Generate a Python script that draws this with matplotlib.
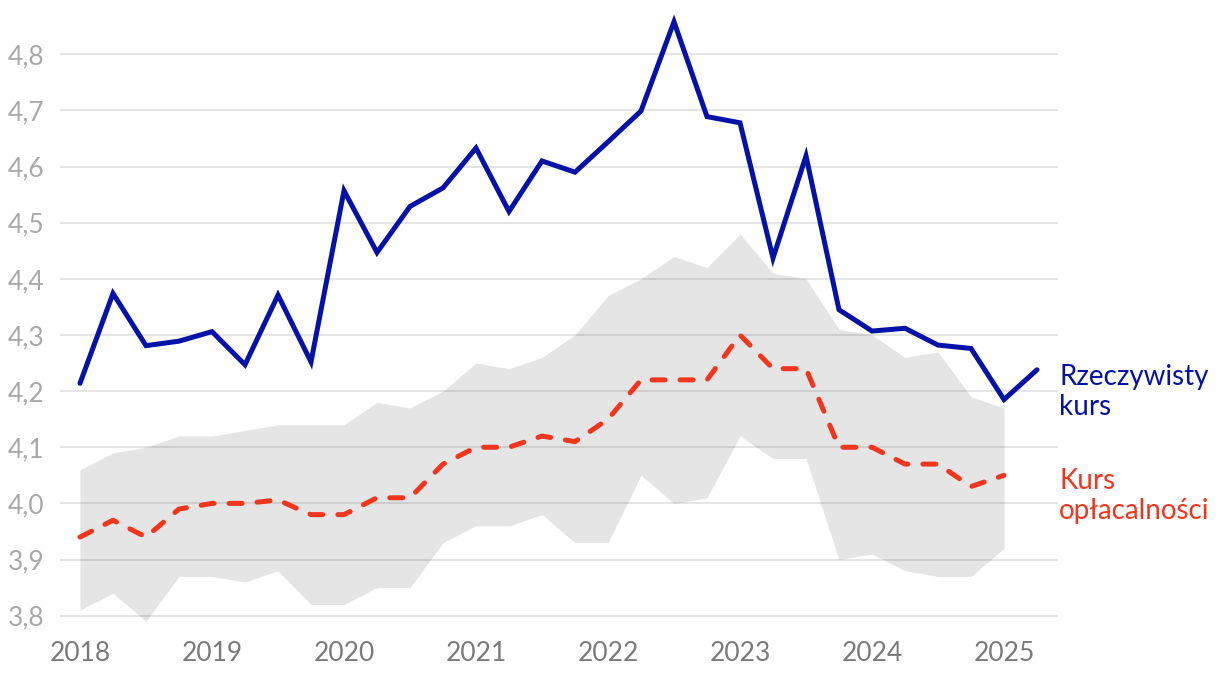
import matplotlib
matplotlib.use("Agg")
import matplotlib.pyplot as plt
import numpy as np

plt.rcParams['font.family'] = ['Lato', 'DejaVu Sans']

# Quarterly time axis
t_actual = [2018 + 0.25 * i for i in range(30)]   # 2018Q1 .. 2025Q2
t_fair = [2018 + 0.25 * i for i in range(29)]     # 2018Q1 .. 2025Q1

actual = [4.214, 4.374, 4.281, 4.289, 4.306, 4.247, 4.371, 4.252,
          4.557, 4.447, 4.529, 4.562, 4.633, 4.520, 4.610, 4.590,
          4.644, 4.699, 4.858, 4.689, 4.678, 4.437, 4.619, 4.345,
          4.307, 4.312, 4.282, 4.276, 4.185, 4.238]

fair = [3.94, 3.97, 3.94, 3.99, 4.00, 4.00, 4.006, 3.98,
        3.98, 4.01, 4.01, 4.07, 4.10, 4.10, 4.12, 4.11,
        4.15, 4.22, 4.22, 4.22, 4.30, 4.24, 4.24, 4.10,
        4.10, 4.07, 4.07, 4.03, 4.05]

band_upper = [4.06, 4.09, 4.10, 4.12, 4.12, 4.13, 4.14, 4.14,
              4.14, 4.18, 4.17, 4.20, 4.25, 4.24, 4.26, 4.30,
              4.37, 4.40, 4.44, 4.42, 4.48, 4.41, 4.40, 4.31,
              4.30, 4.26, 4.27, 4.19, 4.17]

band_lower = [3.81, 3.84, 3.79, 3.87, 3.87, 3.86, 3.88, 3.82,
              3.82, 3.85, 3.85, 3.93, 3.96, 3.96, 3.98, 3.93,
              3.93, 4.05, 4.00, 4.01, 4.12, 4.08, 4.08, 3.90,
              3.91, 3.88, 3.87, 3.87, 3.92]

x_ticks = [2018, 2019, 2020, 2021, 2022, 2023, 2024, 2025]
x_labels = ['2018', '2019', '2020', '2021', '2022', '2023', '2024', '2025']
y_ticks = [3.8, 3.9, 4.0, 4.1, 4.2, 4.3, 4.4, 4.5, 4.6, 4.7, 4.8]
y_labels = ['3,8', '3,9', '4,0', '4,1', '4,2', '4,3', '4,4', '4,5', '4,6', '4,7', '4,8']

label_actual = 'Rzeczywisty\nkurs'
label_fair = 'Kurs\nopłacalności'

BLUE = '#0512a8'
RED = '#f2361e'

W, H = 1220, 678
fig = plt.figure(figsize=(W / 100, H / 100), dpi=100)
ax = fig.add_axes([60 / W, 1 - 632.5 / H, (1058 - 60) / W, (632.5 - 9.4) / H])

ax.set_xlim(2018 - 20 / 132, 2018 + (1058 - 80) / 132)
ax.set_ylim(3.77, 4.88)

ax.fill_between(t_fair, band_lower, band_upper, color='#e5e5e5', lw=0, zorder=1)

for yv in y_ticks:
    ax.axhline(yv, color='black', alpha=0.1, lw=1.5, zorder=2)

ax.plot(t_fair, fair, color=RED, lw=3.6, dashes=(2.6, 3.0),
        dash_capstyle='round', solid_joinstyle='round', zorder=3)
ax.plot(t_actual, actual, color=BLUE, lw=3.6, solid_joinstyle='miter',
        solid_capstyle='round', zorder=4)

ax.set_xticks(x_ticks)
ax.set_xticklabels(x_labels)
ax.set_yticks(y_ticks)
ax.set_yticklabels(y_labels)
ax.tick_params(axis='x', length=0, pad=6, labelsize=19, labelcolor='#7a7a7a')
ax.tick_params(axis='y', length=0, pad=11, labelsize=19, labelcolor='#a9a9a9')
for s in ax.spines.values():
    s.set_visible(False)

fig.text(1059 / W, 1 - 415 / H, label_actual, color=BLUE, fontsize=20,
         ha='left', va='baseline', linespacing=1.2)
fig.text(1059 / W, 1 - 519.3 / H, label_fair, color=RED, fontsize=20,
         ha='left', va='baseline', linespacing=1.2)

fig.savefig('out.png', dpi=100)
